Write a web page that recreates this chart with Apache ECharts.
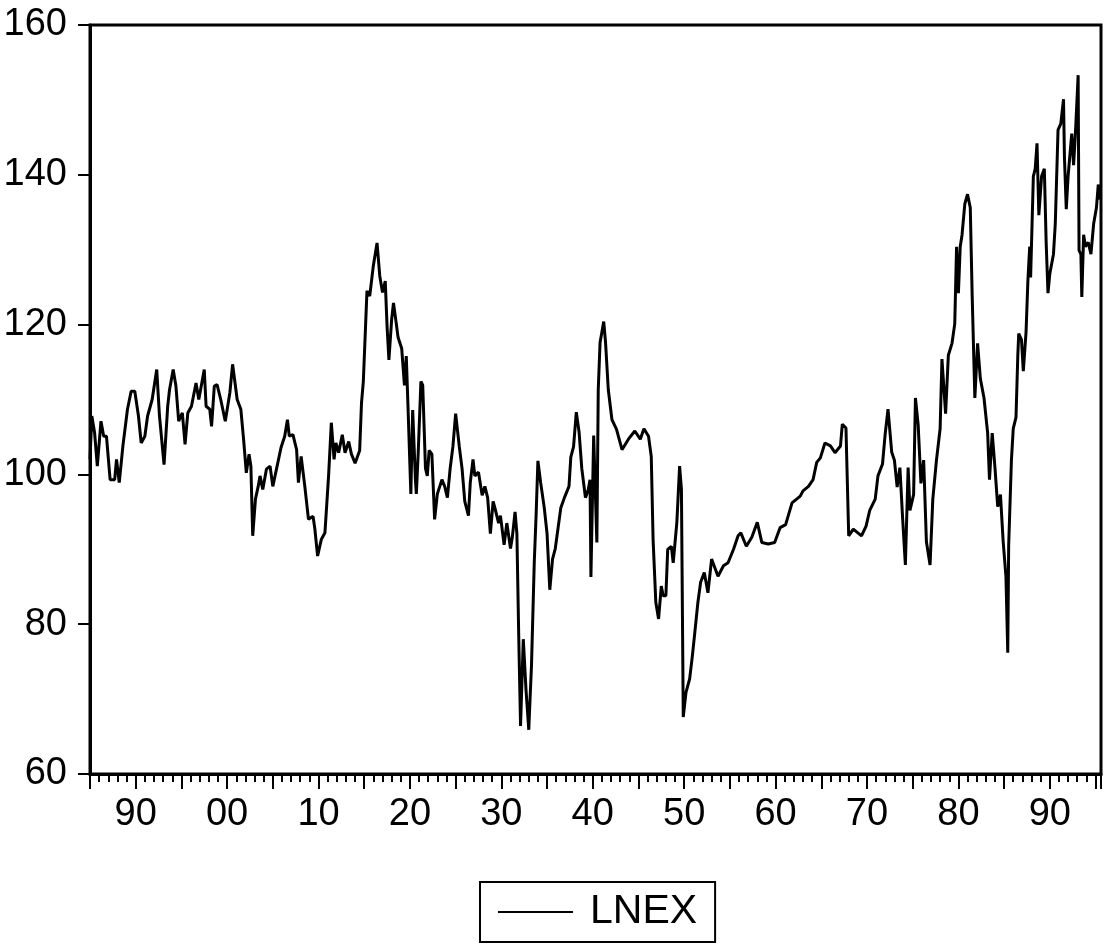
<!DOCTYPE html>
<html>
<head>
    <meta charset="utf-8">
    <title>LNEX</title>
    <script src="https://cdn.jsdelivr.net/npm/echarts@6/dist/echarts.min.js"></script>
    <style>
        body { margin: 0; background: #fff; }
        #main { width: 1104px; height: 945px; }
    </style>
</head>
<body>
    <div id="main"></div>
    <script type="text/javascript">
        // values, year (decimal) and index level
        var years = [
            1885.0, 1885.2, 1885.5, 1885.8, 1886.2, 1886.5, 1886.8, 1887.2, 1887.7, 1887.9,
            1888.2, 1888.6, 1889.1, 1889.5, 1889.9, 1890.3, 1890.6, 1891.0, 1891.3, 1891.8,
            1892.3, 1892.6, 1893.1, 1893.5, 1893.7, 1894.1, 1894.4, 1894.7, 1895.1, 1895.4,
            1895.7, 1896.1, 1896.6, 1896.9, 1897.5, 1897.7, 1898.1, 1898.3, 1898.6, 1898.9,
            1899.3, 1899.8, 1900.3, 1900.6, 1901.1, 1901.5, 1901.8, 1902.1, 1902.4, 1902.6,
            1902.8, 1903.1, 1903.4, 1903.6, 1903.9, 1904.3, 1904.7, 1905.0, 1905.4, 1905.9,
            1906.3, 1906.6, 1906.8, 1907.2, 1907.6, 1907.8, 1908.1, 1908.5, 1908.9, 1909.4,
            1909.6, 1909.9, 1910.3, 1910.7, 1911.1, 1911.4, 1911.7, 1911.9, 1912.2, 1912.6,
            1912.9, 1913.3, 1913.6, 1914.0, 1914.5, 1914.7, 1914.9, 1915.3, 1915.6, 1916.0,
            1916.4, 1916.7, 1917.0, 1917.3, 1917.5, 1917.7, 1918.0, 1918.2, 1918.5, 1918.7,
            1919.1, 1919.4, 1919.6, 1919.8, 1920.1, 1920.3, 1920.6, 1920.7, 1920.9, 1921.2,
            1921.4, 1921.7, 1921.9, 1922.1, 1922.4, 1922.7, 1923.0, 1923.5, 1923.8, 1924.1,
            1924.4, 1924.7, 1925.0, 1925.4, 1925.7, 1926.0, 1926.4, 1926.6, 1926.9, 1927.1,
            1927.5, 1927.9, 1928.2, 1928.5, 1928.8, 1929.1, 1929.3, 1929.7, 1929.9, 1930.3,
            1930.6, 1931.0, 1931.2, 1931.5, 1931.7, 1931.9, 1932.1, 1932.4, 1932.7, 1933.0,
            1933.3, 1933.6, 1933.8, 1934.0, 1934.3, 1934.7, 1935.0, 1935.3, 1935.6, 1935.9,
            1936.5, 1936.9, 1937.4, 1937.6, 1937.9, 1938.2, 1938.5, 1938.8, 1939.2, 1939.5,
            1939.7, 1939.8, 1940.1, 1940.3, 1940.45, 1940.6, 1940.8, 1941.2, 1941.4, 1941.7,
            1942.1, 1942.6, 1943.2, 1943.9, 1944.6, 1945.2, 1945.6, 1946.1, 1946.4, 1946.6,
            1946.9, 1947.2, 1947.5, 1947.7, 1948.0, 1948.2, 1948.6, 1948.8, 1949.2, 1949.5,
            1949.7, 1949.9, 1950.2, 1950.6, 1950.9, 1951.2, 1951.5, 1951.8, 1952.2, 1952.6,
            1953.0, 1953.7, 1954.3, 1954.8, 1955.4, 1955.9, 1956.2, 1956.8, 1957.4, 1958.0,
            1958.5, 1959.2, 1959.9, 1960.5, 1961.1, 1961.8, 1962.3, 1962.7, 1963.0, 1963.6,
            1964.1, 1964.5, 1964.9, 1965.4, 1966.0, 1966.5, 1967.1, 1967.3, 1967.7, 1967.9,
            1968.0, 1968.5, 1969.4, 1969.9, 1970.3, 1970.9, 1971.2, 1971.7, 1972.0, 1972.3,
            1972.5, 1972.7, 1973.0, 1973.3, 1973.6, 1973.9, 1974.2, 1974.5, 1974.7, 1975.1,
            1975.3, 1975.6, 1975.9, 1976.2, 1976.5, 1976.9, 1977.2, 1977.6, 1978.0, 1978.2,
            1978.6, 1978.9, 1979.3, 1979.6, 1979.8, 1980.0, 1980.2, 1980.4, 1980.7, 1981.0,
            1981.3, 1981.5, 1981.8, 1982.1, 1982.4, 1982.8, 1983.2, 1983.4, 1983.7, 1984.0,
            1984.3, 1984.6, 1984.9, 1985.2, 1985.4, 1985.5, 1985.8, 1986.0, 1986.3, 1986.5,
            1986.6, 1986.9, 1987.1, 1987.4, 1987.6, 1987.8, 1987.9, 1988.2, 1988.4, 1988.6,
            1988.8, 1989.1, 1989.4, 1989.6, 1989.8, 1990.0, 1990.4, 1990.6, 1990.9, 1991.2,
            1991.5, 1991.6, 1991.8, 1992.0, 1992.4, 1992.6, 1992.8, 1993.1, 1993.2, 1993.4,
            1993.5, 1993.7, 1993.9, 1994.2, 1994.5, 1994.8, 1995.1, 1995.3, 1995.5
        ];
        var lnex = [
            102.0, 107.8, 105.6, 101.1, 107.1, 105.1, 105.1, 99.3, 99.3, 102.0,
            98.9, 103.8, 108.7, 111.1, 111.1, 107.8, 104.2, 105.1, 107.8, 110.0,
            114.0, 107.8, 101.3, 109.1, 111.3, 114.0, 111.8, 107.1, 108.2, 104.0,
            108.2, 109.1, 112.2, 110.0, 114.0, 109.1, 108.7, 106.4, 111.8, 112.0,
            110.0, 107.1, 110.9, 114.7, 110.0, 108.7, 104.7, 100.2, 102.7, 101.1,
            91.8, 96.7, 98.4, 99.8, 98.0, 100.7, 101.1, 98.4, 100.7, 103.6,
            105.1, 107.3, 105.1, 105.3, 103.3, 98.9, 102.4, 98.4, 94.0, 94.4,
            92.7, 89.1, 91.3, 92.2, 99.8, 106.9, 102.0, 104.2, 102.9, 105.3,
            102.9, 104.4, 102.7, 101.5, 103.2, 109.5, 112.4, 124.5, 123.8, 127.9,
            130.9, 126.5, 124.3, 125.8, 119.7, 115.3, 120.7, 122.9, 120.2, 118.3,
            116.8, 111.9, 115.8, 108.6, 97.4, 108.6, 99.3, 97.4, 102.7, 112.4,
            111.9, 100.8, 99.8, 103.2, 102.7, 94.0, 97.4, 99.3, 98.4, 96.9,
            100.8, 103.7, 108.1, 103.7, 100.8, 96.4, 94.5, 98.9, 102.0, 99.8,
            100.3, 97.2, 98.4, 96.9, 92.1, 96.4, 95.5, 93.5, 94.5, 90.6,
            93.5, 90.1, 91.6, 95.0, 92.1, 78.5, 66.4, 78.0, 71.2, 65.9,
            74.6, 88.2, 94.5, 101.8, 98.9, 95.5, 92.1, 84.6, 88.7, 90.1,
            95.5, 96.9, 98.4, 102.3, 103.7, 108.3, 105.7, 100.8, 96.9, 97.9,
            99.3, 86.3, 105.2, 96.9, 90.9, 111.3, 117.6, 120.4, 117.6, 111.3,
            107.3, 106.0, 103.3, 104.7, 105.8, 104.7, 106.1, 105.1, 102.4, 91.3,
            82.9, 80.7, 85.1, 83.8, 83.8, 90.0, 90.4, 88.2, 93.6, 101.1,
            98.0, 67.6, 70.9, 72.7, 75.8, 79.3, 82.9, 85.6, 86.9, 84.2,
            88.7, 86.4, 87.8, 88.2, 90.0, 91.8, 92.2, 90.4, 91.6, 93.6,
            90.9, 90.7, 90.9, 92.9, 93.3, 96.2, 96.7, 97.1, 97.8, 98.4,
            99.3, 101.6, 102.2, 104.2, 103.8, 102.9, 103.8, 106.7, 106.2, 106.0,
            91.8, 92.7, 91.8, 93.1, 95.2, 96.7, 99.8, 101.4, 105.5, 108.7,
            108.7, 103.0, 101.9, 98.3, 100.9, 94.1, 87.9, 100.9, 95.2, 97.3,
            110.2, 106.6, 98.8, 101.9, 91.0, 87.9, 96.7, 101.9, 106.1, 115.4,
            108.1, 115.9, 117.5, 120.1, 130.4, 124.2, 130.4, 132.0, 136.1, 137.4,
            135.6, 124.2, 110.2, 117.5, 112.8, 110.2, 105.5, 99.3, 105.5, 100.9,
            95.7, 97.3, 91.0, 86.4, 76.2, 90.5, 101.9, 106.1, 107.6, 115.9,
            118.8, 118.0, 113.8, 119.0, 125.8, 130.4, 126.3, 139.8, 140.8, 144.2,
            134.6, 139.8, 140.8, 131.0, 124.2, 126.8, 129.4, 133.5, 146.0, 146.8,
            150.1, 142.4, 135.4, 139.8, 145.5, 141.3, 145.5, 153.3, 129.9, 129.4,
            123.7, 132.0, 130.4, 131.0, 129.4, 133.5, 135.6, 138.7, 136.7
        ];
        var seriesName = 'LNEX';

        var fontFam = '"Liberation Sans", Arial, sans-serif';
        var myChart = echarts.init(document.getElementById('main'), null, { renderer: 'canvas' });

        var points = [];
        for (var i = 0; i < years.length; i++) {
            points.push([years[i], lnex[i]]);
        }

        // two-digit year labels on decades only
        function yearLabel(v) {
            if (Math.abs(v % 10) > 1e-6) return '';
            var s = String(Math.round(v) % 100);
            return s.length < 2 ? '0' + s : s;
        }

        var option = {
            animation: false,
            backgroundColor: '#fff',
            grid: {
                left: 90, right: 3, top: 25, bottom: 171,
                show: true, borderColor: '#000', borderWidth: 3
            },
            legend: {
                data: [seriesName],
                left: 480, top: 882,
                icon: 'rect',
                itemWidth: 75, itemHeight: 2,
                padding: [8, 18, 8, 18],
                borderColor: '#000', borderWidth: 2,
                itemStyle: { color: '#000' },
                textStyle: {
                    fontFamily: fontFam,
                    fontSize: 41, color: '#000', lineHeight: 44,
                    padding: [0, 0, 0, 12]
                }
            },
            xAxis: [
                {
                    type: 'value', min: 1885, max: 1995.6, interval: 5,
                    position: 'bottom',
                    axisLine: { show: true, lineStyle: { color: '#000', width: 3 } },
                    axisTick: { show: true, inside: false, length: 15, lineStyle: { color: '#000', width: 2 } },
                    axisLabel: { formatter: yearLabel, margin: 22, fontSize: 38, color: '#000', fontFamily: fontFam },
                    splitLine: { show: false }
                },
                {
                    type: 'value', min: 1885, max: 1995.6, interval: 1,
                    position: 'bottom',
                    axisLine: { show: false },
                    axisTick: { show: true, inside: false, length: 8, lineStyle: { color: '#000', width: 2 } },
                    axisLabel: { show: false },
                    splitLine: { show: false }
                }
            ],
            yAxis: {
                type: 'value', min: 60, max: 160, interval: 20,
                axisLine: { show: true, lineStyle: { color: '#000', width: 3 } },
                axisTick: { show: true, inside: false, length: 12, lineStyle: { color: '#000', width: 2 } },
                axisLabel: { margin: 23, fontSize: 38, color: '#000', fontFamily: fontFam },
                splitLine: { show: false }
            },
            series: [
                {
                    name: seriesName,
                    type: 'line',
                    xAxisIndex: 0,
                    data: points,
                    symbol: 'none',
                    showSymbol: false,
                    lineStyle: { color: '#000', width: 3 },
                    itemStyle: { color: '#000' }
                }
            ]
        };

        myChart.setOption(option);
    </script>
</body>
</html>
